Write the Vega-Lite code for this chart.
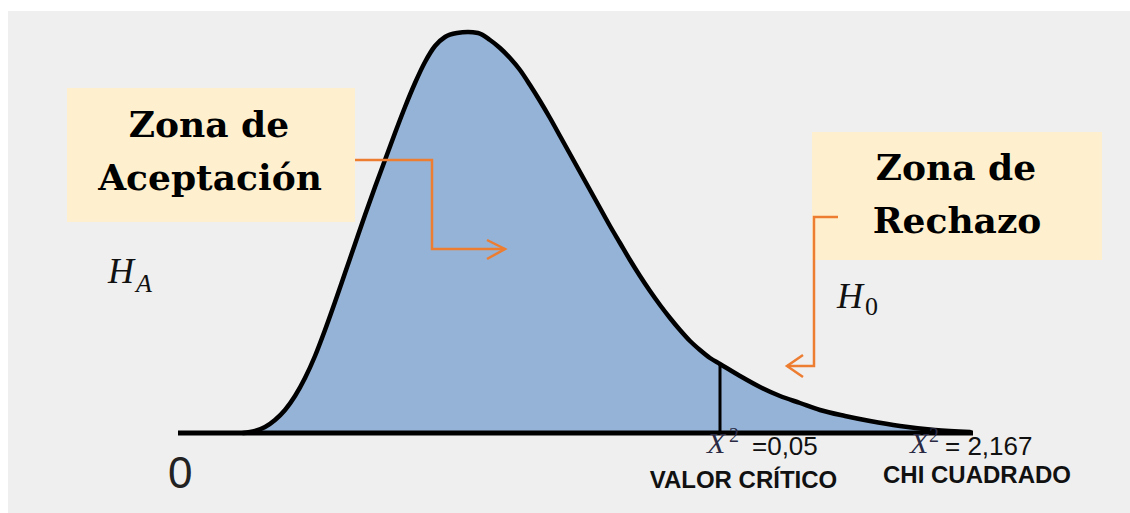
{
  "$schema": "https://vega.github.io/schema/vega-lite/v6.json",
  "width": 1130,
  "height": 513,
  "autosize": {"type": "fit", "contains": "padding"},
  "padding": {"left": 8, "top": 11, "right": 0, "bottom": 0},
  "background": "white",
  "config": {"view": {"fill": "#efefef", "stroke": null}},
  "datasets": {
    "curve": [
      {"x": 0.63, "y": 0.000}, {"x": 0.75, "y": 0.002}, {"x": 0.85, "y": 0.006}, {"x": 0.95, "y": 0.013},
      {"x": 1.05, "y": 0.023}, {"x": 1.15, "y": 0.037}, {"x": 1.25, "y": 0.055}, {"x": 1.35, "y": 0.077},
      {"x": 1.45, "y": 0.103}, {"x": 1.55, "y": 0.131}, {"x": 1.65, "y": 0.160}, {"x": 1.75, "y": 0.189},
      {"x": 1.85, "y": 0.218}, {"x": 1.95, "y": 0.246}, {"x": 2.05, "y": 0.273}, {"x": 2.15, "y": 0.300},
      {"x": 2.25, "y": 0.326}, {"x": 2.35, "y": 0.350}, {"x": 2.45, "y": 0.371}, {"x": 2.55, "y": 0.387},
      {"x": 2.65, "y": 0.396}, {"x": 2.77, "y": 0.400}, {"x": 2.88, "y": 0.401}, {"x": 2.98, "y": 0.400},
      {"x": 3.10, "y": 0.393}, {"x": 3.20, "y": 0.385}, {"x": 3.30, "y": 0.375}, {"x": 3.40, "y": 0.363},
      {"x": 3.50, "y": 0.348}, {"x": 3.60, "y": 0.332}, {"x": 3.70, "y": 0.315}, {"x": 3.80, "y": 0.297},
      {"x": 3.90, "y": 0.279}, {"x": 4.00, "y": 0.261}, {"x": 4.10, "y": 0.243}, {"x": 4.20, "y": 0.225},
      {"x": 4.30, "y": 0.207}, {"x": 4.40, "y": 0.190}, {"x": 4.50, "y": 0.173}, {"x": 4.60, "y": 0.157},
      {"x": 4.70, "y": 0.142}, {"x": 4.80, "y": 0.128}, {"x": 4.90, "y": 0.115}, {"x": 5.00, "y": 0.103},
      {"x": 5.10, "y": 0.092}, {"x": 5.20, "y": 0.083}, {"x": 5.30, "y": 0.075}, {"x": 5.40, "y": 0.069},
      {"x": 5.60, "y": 0.057}, {"x": 5.80, "y": 0.046}, {"x": 6.00, "y": 0.037}, {"x": 6.20, "y": 0.030},
      {"x": 6.40, "y": 0.023}, {"x": 6.65, "y": 0.017}, {"x": 6.90, "y": 0.012}, {"x": 7.20, "y": 0.007},
      {"x": 7.55, "y": 0.003}, {"x": 7.90, "y": 0.001}
    ],
    "boxes": [
      {"x": -1.13, "x2": 1.75, "y": 0.345, "y2": 0.211},
      {"x": 6.32, "x2": 9.22, "y": 0.301, "y2": 0.173}
    ],
    "rules": [
      {"kind": "base", "x": -0.02, "x2": 7.93, "y": 0, "y2": 0},
      {"kind": "critical", "x": 5.40, "x2": 5.40, "y": 0, "y2": 0.068}
    ],
    "arrows": [
      {"seg": "a1", "ord": 1, "x": 1.75, "y": 0.273},
      {"seg": "a1", "ord": 2, "x": 2.52, "y": 0.273},
      {"seg": "a1", "ord": 3, "x": 2.52, "y": 0.184},
      {"seg": "a1", "ord": 4, "x": 3.25, "y": 0.184},
      {"seg": "h1", "ord": 1, "x": 3.07, "y": 0.193},
      {"seg": "h1", "ord": 2, "x": 3.25, "y": 0.184},
      {"seg": "h1", "ord": 3, "x": 3.07, "y": 0.174},
      {"seg": "a2", "ord": 1, "x": 6.58, "y": 0.216},
      {"seg": "a2", "ord": 2, "x": 6.34, "y": 0.216},
      {"seg": "a2", "ord": 3, "x": 6.34, "y": 0.067},
      {"seg": "a2", "ord": 4, "x": 6.07, "y": 0.067},
      {"seg": "h2", "ord": 1, "x": 6.23, "y": 0.078},
      {"seg": "h2", "ord": 2, "x": 6.07, "y": 0.067},
      {"seg": "h2", "ord": 3, "x": 6.23, "y": 0.056}
    ],
    "labels": [
      {"kind": "box", "text": "Zona de", "x": 0.29, "y": 0.296},
      {"kind": "box", "text": "Aceptación", "x": 0.30, "y": 0.243},
      {"kind": "box", "text": "Zona de", "x": 7.76, "y": 0.253},
      {"kind": "box", "text": "Rechazo", "x": 7.77, "y": 0.200},
      {"kind": "H", "text": "H", "x": -0.72, "y": 0.150},
      {"kind": "H", "text": "H", "x": 6.57, "y": 0.125},
      {"kind": "subA", "text": "A", "x": -0.44, "y": 0.141},
      {"kind": "sub0", "text": "0", "x": 6.85, "y": 0.118},
      {"kind": "X", "text": "X", "x": 5.27, "y": -0.020},
      {"kind": "X", "text": "X", "x": 7.30, "y": -0.020},
      {"kind": "sup", "text": "2", "x": 5.49, "y": -0.009},
      {"kind": "sup", "text": "2", "x": 7.49, "y": -0.009},
      {"kind": "val", "text": "=0,05", "x": 5.72, "y": -0.022},
      {"kind": "val", "text": "= 2,167", "x": 7.65, "y": -0.022},
      {"kind": "bold", "text": "VALOR CRÍTICO", "x": 5.635, "y": -0.055},
      {"kind": "bold", "text": "CHI CUADRADO", "x": 7.97, "y": -0.050},
      {"kind": "zero", "text": "0", "x": -0.12, "y": -0.055}
    ]
  },
  "encoding": {
    "x": {"field": "x", "type": "quantitative", "scale": {"domain": [-1.72, 9.5], "nice": false, "zero": false}, "axis": null},
    "y": {"field": "y", "type": "quantitative", "scale": {"domain": [-0.08, 0.422], "nice": false, "zero": false}, "axis": null}
  },
  "layer": [
    {
      "data": {"name": "boxes"},
      "mark": {"type": "rect", "fill": "#fef0cf"},
      "encoding": {"x2": {"field": "x2"}, "y2": {"field": "y2"}}
    },
    {
      "data": {"name": "curve"},
      "mark": {"type": "area", "fill": "#95b3d6", "interpolate": "monotone"},
      "encoding": {"y2": {"datum": 0}}
    },
    {
      "data": {"name": "rules"},
      "transform": [{"filter": "datum.kind === 'base'"}],
      "mark": {"type": "rule", "color": "black", "strokeWidth": 5},
      "encoding": {"x2": {"field": "x2"}, "y2": {"field": "y2"}}
    },
    {
      "data": {"name": "rules"},
      "transform": [{"filter": "datum.kind === 'critical'"}],
      "mark": {"type": "rule", "color": "black", "strokeWidth": 3},
      "encoding": {"x2": {"field": "x2"}, "y2": {"field": "y2"}}
    },
    {
      "data": {"name": "curve"},
      "mark": {"type": "line", "color": "black", "strokeWidth": 4.5, "interpolate": "monotone", "strokeCap": "round"},
      "encoding": {}
    },
    {
      "data": {"name": "arrows"},
      "mark": {"type": "line", "color": "#ED7D31", "strokeWidth": 2.5, "strokeJoin": "miter"},
      "encoding": {"detail": {"field": "seg"}, "order": {"field": "ord"}}
    },
    {
      "data": {"name": "labels"},
      "transform": [{"filter": "datum.kind === 'box'"}],
      "mark": {"type": "text", "font": "DejaVu Serif", "fontWeight": "bold", "fontSize": 36, "align": "center", "baseline": "alphabetic", "color": "black"},
      "encoding": {"text": {"field": "text"}}
    },
    {
      "data": {"name": "labels"},
      "transform": [{"filter": "datum.kind === 'H'"}],
      "mark": {"type": "text", "font": "Liberation Serif", "fontStyle": "italic", "fontSize": 36, "align": "left", "baseline": "alphabetic", "color": "#111"},
      "encoding": {"text": {"field": "text"}}
    },
    {
      "data": {"name": "labels"},
      "transform": [{"filter": "datum.kind === 'subA'"}],
      "mark": {"type": "text", "font": "Liberation Serif", "fontStyle": "italic", "fontSize": 26, "align": "left", "baseline": "alphabetic", "color": "#111"},
      "encoding": {"text": {"field": "text"}}
    },
    {
      "data": {"name": "labels"},
      "transform": [{"filter": "datum.kind === 'sub0'"}],
      "mark": {"type": "text", "font": "Liberation Serif", "fontSize": 26, "align": "left", "baseline": "alphabetic", "color": "#111"},
      "encoding": {"text": {"field": "text"}}
    },
    {
      "data": {"name": "labels"},
      "transform": [{"filter": "datum.kind === 'X'"}],
      "mark": {"type": "text", "font": "Liberation Serif", "fontStyle": "italic", "fontSize": 30, "align": "left", "baseline": "alphabetic", "color": "#2a2a44"},
      "encoding": {"text": {"field": "text"}}
    },
    {
      "data": {"name": "labels"},
      "transform": [{"filter": "datum.kind === 'sup'"}],
      "mark": {"type": "text", "font": "Liberation Serif", "fontSize": 20, "align": "left", "baseline": "alphabetic", "color": "#2a2a44"},
      "encoding": {"text": {"field": "text"}}
    },
    {
      "data": {"name": "labels"},
      "transform": [{"filter": "datum.kind === 'val'"}],
      "mark": {"type": "text", "font": "Liberation Sans", "fontSize": 26, "align": "left", "baseline": "alphabetic", "color": "#111"},
      "encoding": {"text": {"field": "text"}}
    },
    {
      "data": {"name": "labels"},
      "transform": [{"filter": "datum.kind === 'bold'"}],
      "mark": {"type": "text", "font": "Liberation Sans", "fontWeight": "bold", "fontSize": 24, "align": "center", "baseline": "alphabetic", "color": "#111"},
      "encoding": {"text": {"field": "text"}}
    },
    {
      "data": {"name": "labels"},
      "transform": [{"filter": "datum.kind === 'zero'"}],
      "mark": {"type": "text", "font": "Liberation Sans", "fontSize": 44, "align": "left", "baseline": "alphabetic", "color": "#222"},
      "encoding": {"text": {"field": "text"}}
    }
  ]
}
